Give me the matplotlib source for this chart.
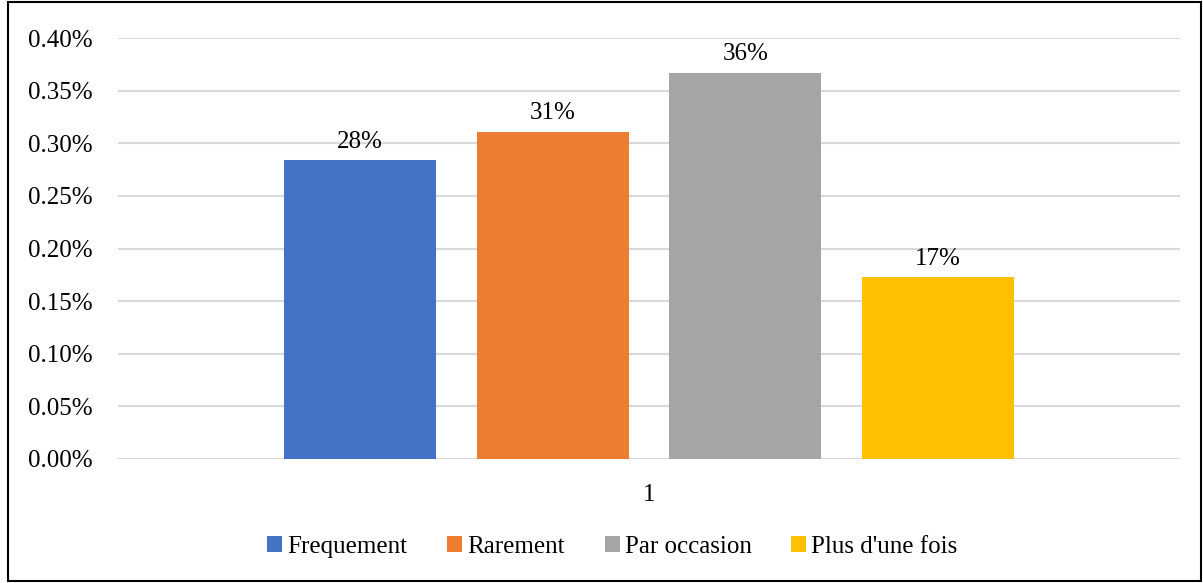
import matplotlib
matplotlib.use("Agg")
import matplotlib.pyplot as plt
from matplotlib.patches import Rectangle

# données
series = ["Frequement", "Rarement", "Par occasion", "Plus d'une fois"]
valeurs = [0.284, 0.311, 0.367, 0.173]
etiquettes = ["28%", "31%", "36%", "17%"]
couleurs = ["#4472C4", "#ED7D31", "#A5A5A5", "#FFC000"]
yticks = [0.00, 0.05, 0.10, 0.15, 0.20, 0.25, 0.30, 0.35, 0.40]
ytick_labels = ["0.00%", "0.05%", "0.10%", "0.15%", "0.20%", "0.25%", "0.30%", "0.35%", "0.40%"]
categorie = "1"

plt.rcParams['font.family'] = ['Liberation Serif', 'DejaVu Serif']

fig = plt.figure(figsize=(12.03, 5.83), dpi=100)
ax = fig.add_axes([0.0981, 0.2127, 0.8828, 0.7221])

largeur = 0.1431
pas = 0.1813
centre = 0.5
for i, (nom, v, lab, c) in enumerate(zip(series, valeurs, etiquettes, couleurs)):
    x = centre + (i - 1.5) * pas
    ax.bar(x, v, width=largeur, color=c, label=nom, zorder=3)
    ax.text(x, v + 0.007, lab, ha='center', va='bottom', fontsize=18)

ax.set_xlim(0, 1)
ax.set_ylim(0, 0.40)
ax.set_yticks(yticks)
ax.set_yticklabels(ytick_labels, fontsize=18)
ax.set_xticks([centre])
ax.set_xticklabels([categorie], fontsize=18)
ax.tick_params(axis='both', length=0)
ax.tick_params(axis='y', pad=18)
ax.tick_params(axis='x', pad=18)
ax.grid(axis='y', color='#D9D9D9', linewidth=1.5, zorder=0)
for s in ax.spines.values():
    s.set_visible(False)

fig.legend(loc='center', bbox_to_anchor=(0.509, 0.062), ncol=4, frameon=False,
           fontsize=18, handlelength=0.6, handleheight=0.6, handletextpad=0.2,
           columnspacing=1.6)

# cadre autour de la figure
fig.patches.append(Rectangle((0.007, 0.004), 0.991, 0.992, transform=fig.transFigure,
                             fill=False, edgecolor='black', linewidth=1.5))

fig.savefig("out.png", dpi=100)
